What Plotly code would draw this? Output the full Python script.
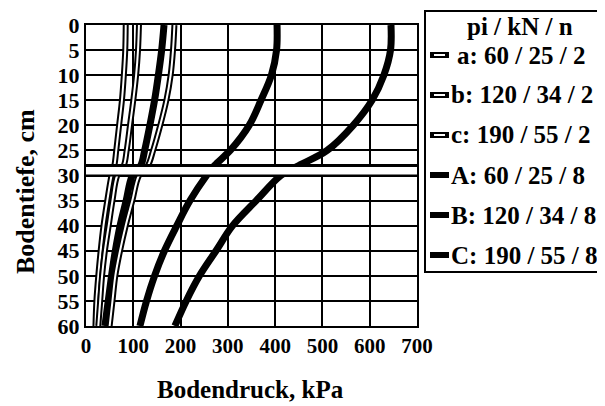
import plotly.graph_objects as go

depth = [0, 5, 10, 15, 20, 25, 28, 30, 35, 40, 45, 50, 55, 60]

a_vals = [84, 83, 80, 76, 70, 64, 60, 54, 45, 37, 31, 26, 22, 20]
b_vals = [112, 110, 106, 100, 93, 86, 80, 66, 56, 48, 40, 34, 30, 26]
c_vals = [187, 184, 179, 170, 157, 142, 131, 112, 98, 84, 72, 62, 56, 50]
A_vals = [165, 160, 153, 145, 135, 124, 116, 98, 85, 72, 62, 54, 47, 40]
B_vals = [404, 403, 392, 370, 345, 305, 272, 255, 220, 192, 166, 145, 128, 114]
C_vals = [645, 644, 630, 605, 565, 510, 450, 412, 360, 310, 275, 240, 212, 188]

series_names = ["a: 60 / 25 / 2", "b: 120 / 34 / 2", "c: 190 / 55 / 2",
                "A: 60 / 25 / 8", "B: 120 / 34 / 8", "C: 190 / 55 / 8"]
legend_title = "pi / kN / n"
x_ticks = [0, 100, 200, 300, 400, 500, 600, 700]
y_ticks = [0, 5, 10, 15, 20, 25, 30, 35, 40, 45, 50, 55, 60]
boundary_top, boundary_bottom = 28, 30

FONT = "Liberation Serif"
fig = go.Figure()

# thick black series (n = 8)
for vals in [A_vals, B_vals, C_vals]:
    fig.add_trace(go.Scatter(x=vals, y=depth, mode="lines", line=dict(color="black", width=7, shape="spline"),
                             showlegend=False, hoverinfo="skip"))
# outlined series (n = 2)
for vals in [a_vals, b_vals, c_vals]:
    fig.add_trace(go.Scatter(x=vals, y=depth, mode="lines", line=dict(color="black", width=6, shape="spline"),
                             showlegend=False, hoverinfo="skip"))
    fig.add_trace(go.Scatter(x=vals, y=depth, mode="lines", line=dict(color="white", width=2, shape="spline"),
                             showlegend=False, hoverinfo="skip"))

# layer boundary band
fig.add_shape(type="rect", xref="x", yref="y", x0=0, x1=700, y0=boundary_top, y1=boundary_bottom,
              fillcolor="white", line=dict(width=0), layer="above")
fig.add_shape(type="line", xref="x", yref="y", x0=0, x1=700, y0=boundary_top, y1=boundary_top,
              line=dict(color="black", width=3), layer="above")
fig.add_shape(type="line", xref="x", yref="y", x0=0, x1=700, y0=boundary_bottom, y1=boundary_bottom,
              line=dict(color="black", width=2), layer="above")

# manual legend
L, T, W, H = 78, 17, 331, 301
def px(x):
    return (x - L) / W
def py(y):
    return (T + H - y) / H

fig.add_shape(type="rect", xref="paper", yref="paper", x0=px(417), x1=px(620), y0=py(264), y1=py(3),
              line=dict(color="black", width=2), fillcolor="white", layer="above")
fig.add_annotation(xref="paper", yref="paper", x=px(512), y=py(18), text=legend_title, showarrow=False,
                   font=dict(family=FONT, size=25, color="black", weight="bold"), xanchor="center", yanchor="middle")
row_y = [47, 87, 127, 167, 207, 247]
for i, name in enumerate(series_names):
    yy = py(row_y[i])
    fig.add_shape(type="line", xref="paper", yref="paper", x0=px(422), x1=px(441), y0=yy, y1=yy,
                  line=dict(color="black", width=6), layer="above")
    if i < 3:
        fig.add_shape(type="line", xref="paper", yref="paper", x0=px(426), x1=px(437), y0=yy, y1=yy,
                      line=dict(color="white", width=2), layer="above")
    fig.add_annotation(xref="paper", yref="paper", x=px(441 if i > 0 else 447), y=yy, text=name, showarrow=False,
                       font=dict(family=FONT, size=25, color="black", weight="bold"),
                       xanchor="left", yanchor="middle")

# axis titles
fig.add_annotation(xref="paper", yref="paper", x=px(242), y=py(381), text="Bodendruck, kPa", showarrow=False,
                   font=dict(family=FONT, size=25, color="black", weight="bold"), xanchor="center", yanchor="middle")
fig.add_annotation(xref="paper", yref="paper", x=px(17), y=py(184), text="Bodentiefe, cm", showarrow=False,
                   textangle=-90, font=dict(family=FONT, size=26, color="black", weight="bold"),
                   xanchor="center", yanchor="middle")

fig.update_xaxes(range=[0, 700], tickvals=x_ticks, showgrid=True, gridcolor="black", gridwidth=2,
                 showline=True, linecolor="black", linewidth=2, mirror=True, zeroline=False, automargin=False,
                 ticks="", tickfont=dict(family=FONT, size=21, color="black", weight="bold"))
fig.update_yaxes(range=[60, 0], tickvals=y_ticks, showgrid=True, gridcolor="black", gridwidth=2,
                 showline=True, linecolor="black", linewidth=2, mirror=True, zeroline=False, automargin=False,
                 ticks="", tickfont=dict(family=FONT, size=22, color="black", weight="bold"))

fig.update_layout(width=605, height=406, margin=dict(l=L, r=605 - L - W, t=T, b=406 - T - H, autoexpand=False),
                  paper_bgcolor="white", plot_bgcolor="white", showlegend=False)

fig.write_html("out.html")
